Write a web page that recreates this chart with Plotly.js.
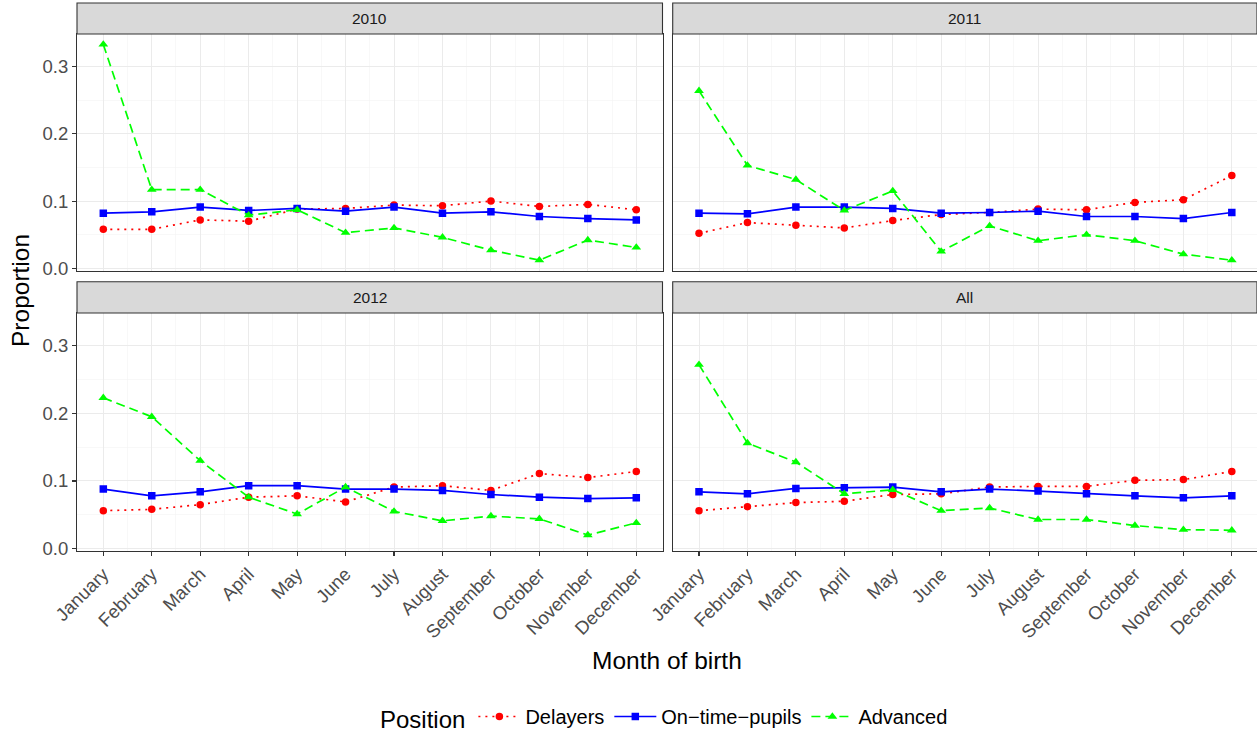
<!DOCTYPE html>
<html>
<head>
<meta charset="utf-8">
<script src="https://cdn.plot.ly/plotly-3.0.1.min.js"></script>
<style>html,body{margin:0;padding:0;background:#fff;}#chart{width:1257px;height:733px;}</style>
</head>
<body>
<div id="chart"></div>
<script>
// ---- Data ----
const months = ["January","February","March","April","May","June","July","August","September","October","November","December"];
const panels = ["2010","2011","2012","All"];
const seriesNames = ["Delayers","On\u2212time\u2212pupils","Advanced"];

const delayers2010 = [0.058,0.058,0.072,0.070,0.088,0.089,0.094,0.093,0.100,0.092,0.095,0.087];
const ontime2010   = [0.082,0.084,0.091,0.086,0.089,0.085,0.091,0.082,0.084,0.077,0.074,0.072];
const advanced2010 = [0.333,0.117,0.117,0.079,0.087,0.053,0.060,0.046,0.027,0.012,0.042,0.031];

const delayers2011 = [0.052,0.068,0.064,0.060,0.071,0.080,0.083,0.088,0.087,0.098,0.102,0.138];
const ontime2011   = [0.082,0.081,0.091,0.091,0.089,0.082,0.083,0.085,0.077,0.077,0.074,0.083];
const advanced2011 = [0.264,0.153,0.132,0.086,0.115,0.025,0.063,0.041,0.050,0.041,0.021,0.012];

const delayers2012 = [0.056,0.058,0.065,0.076,0.078,0.069,0.091,0.093,0.086,0.111,0.105,0.114];
const ontime2012   = [0.088,0.078,0.084,0.093,0.093,0.088,0.088,0.086,0.080,0.076,0.074,0.075];
const advanced2012 = [0.223,0.195,0.130,0.076,0.051,0.091,0.055,0.041,0.048,0.044,0.020,0.038];

const delayersAll = [0.056,0.062,0.068,0.070,0.080,0.081,0.091,0.092,0.092,0.101,0.102,0.114];
const ontimeAll   = [0.084,0.081,0.089,0.090,0.091,0.084,0.088,0.085,0.081,0.078,0.075,0.078];
const advancedAll = [0.272,0.156,0.128,0.081,0.087,0.056,0.060,0.043,0.043,0.034,0.028,0.027];

const panelData = [
  [delayers2010, ontime2010, advanced2010],
  [delayers2011, ontime2011, advanced2011],
  [delayers2012, ontime2012, advanced2012],
  [delayersAll, ontimeAll, advancedAll]
];

// ---- Styles ----
const FONT = '"Liberation Sans", Arial, Helvetica, sans-serif';
const colors = ["#FF0000","#0000FF","#00FF00"];
const dashes = ["2px,5px","solid","9px,5px"];
const symbols = ["circle","square","triangle-up"];
const msize = [7.5,7.5,8.5];

const xIdx = months.map((m,i)=>i);
const xMinor = months.slice(1).map((m,i)=>i+0.5);
const traces = [];
panelData.forEach((series, p) => {
  const ax = p === 0 ? '' : String(p+1);
  series.forEach((vals, s) => {
    traces.push({
      type: 'scatter', mode: 'lines+markers',
      x: xIdx, y: vals,
      xaxis: 'x' + ax, yaxis: 'y' + ax,
      name: seriesNames[s], legendgroup: seriesNames[s],
      showlegend: p === 0,
      line: {color: colors[s], width: 1.7, dash: dashes[s]},
      marker: {color: colors[s], size: msize[s], symbol: symbols[s]},
      hoverinfo: 'x+y'
    });
  });
});

// Geometry (paper fractions)
const W = 1257, H = 733, ML = 77, MR = 0, MT = 3, MB = 182;
const pw = W - ML - MR, ph = H - MT - MB;
const fx = px => (px - ML) / pw;
const fy = py => (H - MB - py) / ph;
const colDom = [[fx(77), fx(662.5)], [fx(672.7), 1]];
const rowDom = [[fy(270.7), fy(34)], [fy(551), fy(313)]];
const stripDom = [[fy(34), fy(3)], [fy(313), fy(281.7)]];

const yRange = [-0.0036, 0.3485];
const xRanges = [[-0.543, 11.541], [-0.543, 11.52]];
const TICKFONT = {family: FONT, size: 18.5, color: '#4D4D4D'};

function xaxis(col, row) {
  const bottom = row === 1;
  return {
    domain: colDom[col], range: xRanges[col], anchor: 'y' + (row*2+col === 0 ? '' : row*2+col+1),
    tickmode: 'array', tickvals: xIdx, ticktext: months,
    showticklabels: bottom, ticks: bottom ? 'outside' : '', ticklen: 4, tickwidth: 1.1, tickcolor: '#333333',
    tickangle: -45, tickfont: TICKFONT,
    showgrid: true, gridcolor: '#EBEBEB', gridwidth: 1,
    minor: {tickmode: 'array', tickvals: xMinor, showgrid: true, gridcolor: '#F3F3F3', gridwidth: 0.6, ticks: ''},
    showline: true, mirror: true, linecolor: '#333333', linewidth: 1.1,
    zeroline: false, fixedrange: true, automargin: false
  };
}
function yaxis(col, row) {
  const left = col === 0;
  return {
    domain: rowDom[row], range: yRange, anchor: 'x' + (row*2+col === 0 ? '' : row*2+col+1),
    tickmode: 'linear', tick0: 0, dtick: 0.1, tickformat: '.1f',
    showticklabels: left, ticks: left ? 'outside' : '', ticklen: 4, tickwidth: 1.1, tickcolor: '#333333',
    tickfont: TICKFONT,
    showgrid: true, gridcolor: '#EBEBEB', gridwidth: 1,
    minor: {tickmode: 'linear', tick0: 0.05, dtick: 0.1, showgrid: true, gridcolor: '#F3F3F3', gridwidth: 0.6, ticks: ''},
    showline: true, mirror: true, linecolor: '#333333', linewidth: 1.1,
    zeroline: false, fixedrange: true, automargin: false
  };
}

const layout = {
  width: W, height: H,
  margin: {l: ML, r: MR, t: MT, b: MB, pad: 0, autoexpand: false},
  paper_bgcolor: '#FFFFFF', plot_bgcolor: '#FFFFFF',
  font: {family: FONT, color: '#000000'},
  showlegend: true,
  legend: {
    orientation: 'h', x: fx(378), xanchor: 'left', y: fy(718), yanchor: 'middle',
    title: {text: 'Position', side: 'left', font: {family: FONT, size: 24, color: '#000000'}},
    font: {family: FONT, size: 20, color: '#000000'},
    itemwidth: 42, tracegroupgap: 0, bgcolor: 'rgba(0,0,0,0)'
  },
  shapes: [],
  annotations: []
};

for (let row = 0; row < 2; row++) {
  for (let col = 0; col < 2; col++) {
    const k = row*2 + col;
    const sfx = k === 0 ? '' : String(k+1);
    layout['xaxis' + sfx] = xaxis(col, row);
    layout['yaxis' + sfx] = yaxis(col, row);
    layout.shapes.push({
      type: 'rect', xref: 'paper', yref: 'paper', layer: 'above',
      x0: colDom[col][0], x1: colDom[col][1], y0: stripDom[row][0], y1: stripDom[row][1],
      fillcolor: '#D9D9D9', line: {color: '#333333', width: 1.1}
    });
    layout.annotations.push({
      text: panels[k], xref: 'paper', yref: 'paper', showarrow: false,
      x: (colDom[col][0] + colDom[col][1]) / 2, y: (stripDom[row][0] + stripDom[row][1]) / 2,
      xanchor: 'center', yanchor: 'middle',
      font: {family: FONT, size: 15.5, color: '#1A1A1A'}
    });
  }
}

layout.annotations.push({
  text: 'Proportion', xref: 'paper', yref: 'paper', showarrow: false,
  x: fx(20), y: fy(291), xanchor: 'center', yanchor: 'middle', textangle: -90,
  font: {family: FONT, size: 24.5, color: '#000000'}
});
layout.annotations.push({
  text: 'Month of birth', xref: 'paper', yref: 'paper', showarrow: false,
  x: fx(667), y: fy(660), xanchor: 'center', yanchor: 'middle',
  font: {family: FONT, size: 24.5, color: '#000000'}
});

Plotly.newPlot('chart', traces, layout, {displayModeBar: false, staticPlot: true});
</script>
</body>
</html>
